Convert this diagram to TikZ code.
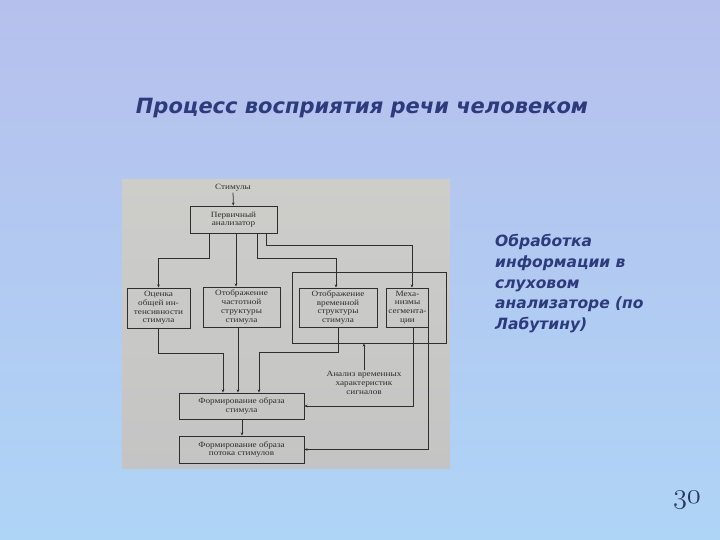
\documentclass[tikz,border=0pt]{standalone}
\usepackage{fontspec}
\usetikzlibrary{arrows.meta}
\newfontfamily\dvbi{DejaVu Sans Bold Oblique}
\newfontfamily\scanfont{Liberation Serif}[FakeStretch=1.15]
\definecolor{bgtop}{HTML}{B6C0EC}
\definecolor{bgbot}{HTML}{AED4F6}
\definecolor{navy}{HTML}{2D3A7C}
\definecolor{numcol}{HTML}{2A3A5E}
\definecolor{scantop}{HTML}{CDCDCA}
\definecolor{scanbot}{HTML}{C4C4C4}
\definecolor{ink}{HTML}{2E2E2E}
\newcommand\osnum[1]{{\usefont{OML}{cmm}{m}{it}#1}}
\begin{document}
\begin{tikzpicture}[x=1pt,y=-1pt,
  box/.style={draw=ink, line width=0.8pt, inner sep=1pt, align=center,
    font=\scanfont\fontsize{8}{8.7}\selectfont, text=ink},
  plain/.style={inner sep=1pt, align=center,
    font=\scanfont\fontsize{8}{8.7}\selectfont, text=ink},
  arr/.style={draw=ink, line width=0.75pt, -{Stealth[length=3.2pt,width=2.6pt]}}]
% background
\shade[top color=bgtop, bottom color=bgbot] (0,0) rectangle (720,540);
\useasboundingbox (0,0) rectangle (720,540);
% title
\node[font=\dvbi\fontsize{21}{24}\selectfont, text=navy] (title) at (362,108)
  {Процесс восприятия речи человеком};
% side text
\node[anchor=north west, align=left, inner sep=0pt, text=navy,
  font=\dvbi\fontsize{15.5}{20.8}\selectfont] (side) at (495,234)
  {Обработка\\информации в\\слуховом\\анализаторе (по\\Лабутину)};
% page number
\node[text=numcol, font=\fontsize{24.88}{28}\selectfont, scale=1.15] (pg) at (687,500) {\osnum{30}};
% scanned diagram background
\shade[top color=scantop, bottom color=scanbot] (122,180) rectangle (450,468);
% nodes
\node[plain] (stim) at (233,188) {Стимулы};
\node[box, minimum width=87pt, minimum height=27pt] (prim) at (233.5,219.5) {Первичный\\анализатор};
\node[draw=ink, line width=0.8pt, minimum width=154pt, minimum height=71pt, inner sep=0pt] (grp) at (369,307.5) {};
\node[box, minimum width=63pt, minimum height=40pt] (b1) at (158.5,308) {Оценка\\общей ин-\\тенсивности\\стимула};
\node[box, minimum width=77pt, minimum height=40pt] (b2) at (241.5,307) {Отображение\\частотной\\структуры\\стимула};
\node[box, minimum width=78pt, minimum height=39pt] (b3) at (338,307.5) {Отображение\\временной\\структуры\\стимула};
\node[box, minimum width=42pt, minimum height=39pt] (b4) at (407.5,307.5) {Меха-\\низмы\\сегмента-\\ции};
\node[plain] (anal) at (364,383) {Анализ временных\\характеристик\\сигналов};
\node[box, minimum width=125pt, minimum height=26pt] (f1) at (241.5,406) {Формирование образа\\стимула};
\node[box, minimum width=125pt, minimum height=27pt] (f2) at (241.5,449.5) {Формирование образа\\потока стимулов};
% connectors
\draw[arr] (stim) -- (prim);
\draw[arr] ([xshift=-24.5pt]prim.south) -- ++(0,25) -| (b1.north);
\draw[arr] ([xshift=2.5pt]prim.south) -- ([xshift=-5.5pt]b2.north);
\draw[arr] ([xshift=23.5pt]prim.south) -- ++(0,25) -| ([xshift=-2pt]b3.north);
\draw[arr] ([xshift=32.5pt]prim.south) -- ++(0,12) -| ([xshift=4.5pt]b4.north);
\draw[arr] (b1.south) -- ++(0,25) -| ([xshift=-18.5pt]f1.north);
\draw[arr] ([xshift=-3.5pt]b2.south) -- ([xshift=-3.5pt]f1.north);
\draw[arr] (b3.south) -- ++(0,25) -| ([xshift=17.5pt]f1.north);
\draw[arr] (anal.north) -- (anal.north |- grp.south);
\draw[arr] ([xshift=5.5pt]b4.south) |- (f1.east);
\draw[arr] ([xshift=-1pt]b4.south east) |- (f2.east);
\draw[arr] ([xshift=0.5pt]f1.south) -- ([xshift=0.5pt]f2.north);
\end{tikzpicture}
\end{document}
